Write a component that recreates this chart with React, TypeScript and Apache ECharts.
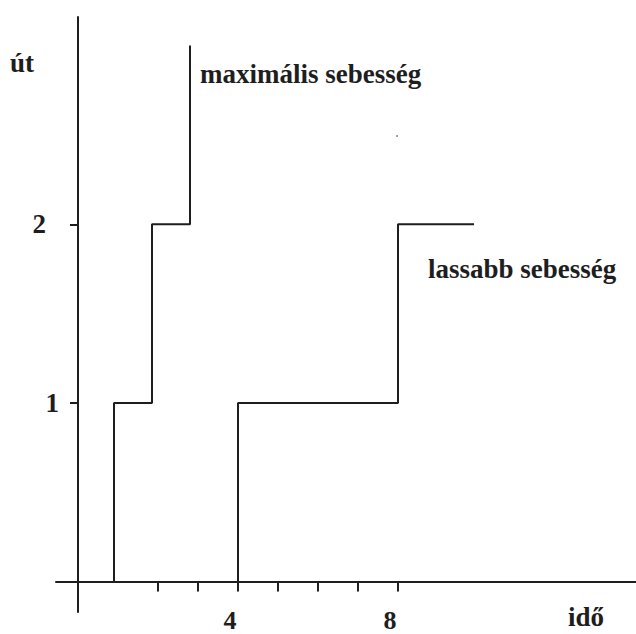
import React, { useEffect, useRef } from "react";
import * as echarts from "echarts";

// maximális sebesség (idő, út)
const maxTime = [0.9, 0.9, 1.85, 1.85, 2.8, 2.8];
const maxDist = [0, 1, 1, 2, 2, 3];
// lassabb sebesség (idő, út)
const slowTime = [4, 4, 8, 8, 9.9];
const slowDist = [0, 1, 1, 2, 2];

const xTickValues = [2, 3, 4, 5, 6, 7, 8];
const xLabelValues = [4, 8];
const yTickValues = [1, 2];
const yLabelValues = [1, 2];

const xName = "idő";
const yName = "út";
const maxName = "maximális sebesség";
const slowName = "lassabb sebesség";

const FONT = "'Liberation Serif', 'Times New Roman', serif";
const INK = "#1e1e1e";

export default function App() {
  const ref = useRef<HTMLDivElement>(null);
  useEffect(() => {
    if (!ref.current) return;
    const chart = echarts.init(ref.current, null, { renderer: "svg" });
    const lineStyle = { color: INK, width: 2 };
    const textStyle = {
      fontFamily: FONT,
      fontWeight: "bold" as const,
      fontSize: 27,
      fill: INK,
    };
    chart.setOption({
      animation: false,
      backgroundColor: "#ffffff",
      grid: {
        left: 56,
        right: 0,
        top: 17,
        bottom: 22,
        containLabel: false,
        outerBoundsMode: "none",
      },
      xAxis: {
        type: "value",
        min: -0.55,
        max: 13.95,
        axisLine: { onZero: true, lineStyle },
        axisTick: {
          show: true,
          customValues: xTickValues,
          length: 10,
          lineStyle,
        },
        axisLabel: {
          customValues: xLabelValues,
          margin: -1,
          lineHeight: 18,
          padding: [0, 16, 0, 0],
          fontFamily: FONT,
          fontWeight: "bold",
          fontSize: 26,
          color: INK,
        },
        splitLine: { show: false },
      },
      yAxis: {
        type: "value",
        min: -0.17,
        max: 3.16,
        axisLine: { onZero: true, lineStyle },
        axisTick: {
          show: true,
          customValues: yTickValues,
          length: 8,
          lineStyle,
        },
        axisLabel: {
          customValues: yLabelValues,
          margin: -3,
          formatter: (v: number) => (v === 2 ? `{two|${v}}` : `{one|${v}}`),
          rich: {
            two: {
              padding: [0, 13, 0, 0],
              fontFamily: FONT,
              fontWeight: "bold",
              fontSize: 27,
              color: INK,
            },
            one: {
              fontFamily: FONT,
              fontWeight: "bold",
              fontSize: 27,
              color: INK,
            },
          },
        },
        splitLine: { show: false },
      },
      series: [
        {
          name: maxName,
          type: "line",
          symbol: "none",
          lineStyle,
          data: maxTime.map((t, i) => [t, maxDist[i]]),
        },
        {
          name: slowName,
          type: "line",
          symbol: "none",
          lineStyle,
          data: slowTime.map((t, i) => [t, slowDist[i]]),
        },
      ],
      graphic: [
        {
          type: "text",
          x: 10,
          y: 63,
          style: { ...textStyle, text: yName, verticalAlign: "middle" },
        },
        {
          type: "text",
          x: 568,
          y: 617,
          style: { ...textStyle, text: xName, verticalAlign: "middle" },
        },
        {
          type: "text",
          x: 200,
          y: 74,
          style: { ...textStyle, text: maxName, verticalAlign: "middle" },
        },
        {
          type: "text",
          x: 428,
          y: 269,
          style: { ...textStyle, text: slowName, verticalAlign: "middle" },
        },
        {
          type: "circle",
          shape: { cx: 397, cy: 136, r: 0.8 },
          style: { fill: "#666" },
        },
      ],
    });
    return () => chart.dispose();
  }, []);
  return (
    <div
      ref={ref}
      style={{ position: "fixed", left: 0, top: 0, width: 636, height: 634 }}
    />
  );
}
